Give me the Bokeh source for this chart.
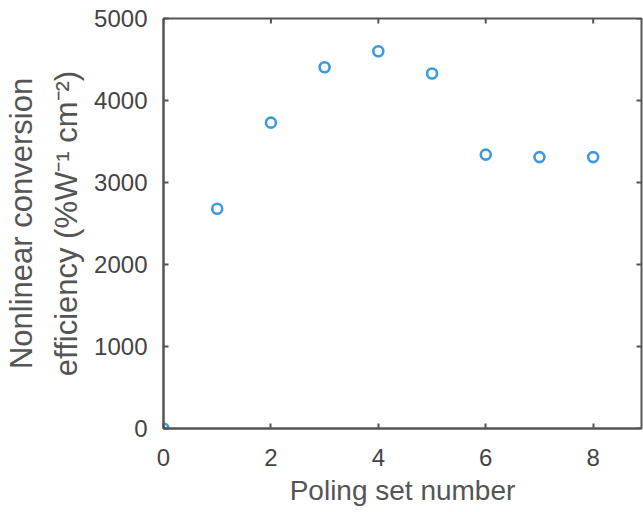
from bokeh.plotting import figure
from bokeh.models import FixedTicker, Range1d
from bokeh.embed import file_html
from bokeh.resources import INLINE

poling_set = [0, 1, 2, 3, 4, 5, 6, 7, 8]
efficiency = [0, 2680, 3730, 4405, 4600, 4330, 3340, 3310, 3310]
x_ticks = [0, 2, 4, 6, 8]
y_ticks = [0, 1000, 2000, 3000, 4000, 5000]

X_MAX = 8.9
Y_MAX = 5000

FONT = "Liberation Sans"
AX = "#555555"
LBL = "#444444"

p = figure(width=643, height=512, output_backend="svg", toolbar_location=None,
           x_range=Range1d(0, X_MAX), y_range=Range1d(0, Y_MAX),
           min_border_left=163, min_border_right=2, min_border_top=18, min_border_bottom=84)
p.grid.visible = False
p.background_fill_color = "white"
p.outline_line_color = AX
p.outline_line_width = 2

for ax in (p.xaxis[0], p.yaxis[0]):
    ax.axis_line_color = AX
    ax.axis_line_width = 2
    ax.major_tick_in = 5
    ax.major_tick_out = 0
    ax.major_tick_line_color = AX
    ax.major_tick_line_width = 2
    ax.minor_tick_line_color = None
    ax.major_label_text_font = FONT
    ax.major_label_text_font_size = "24px"
    ax.major_label_text_color = LBL
    ax.axis_label_text_font = FONT
    ax.axis_label_text_font_style = "normal"
    ax.axis_label_text_color = AX

p.xaxis.ticker = FixedTicker(ticks=x_ticks)
p.yaxis.ticker = FixedTicker(ticks=y_ticks)
p.xaxis.axis_label = "Poling set number"
p.yaxis.axis_label = "Nonlinear conversion\nefficiency (%W\u207b\u00b9 cm\u207b\u00b2)"
p.xaxis.axis_label_text_font_size = "28px"
p.yaxis.axis_label_text_font_size = "31px"
p.yaxis.axis_label_text_line_height = 1.3
p.xaxis.major_label_standoff = 20
p.yaxis.major_label_standoff = 16
p.xaxis.axis_label_standoff = 6
p.yaxis.axis_label_standoff = 7

# inward ticks on the top and right edges of the box
tick_len_y = Y_MAX * 5 / 410
tick_len_x = X_MAX * 5 / 478
p.segment(x0=x_ticks, y0=[Y_MAX] * len(x_ticks), x1=x_ticks,
          y1=[Y_MAX - tick_len_y] * len(x_ticks), line_color=AX, line_width=2)
p.segment(x0=[X_MAX] * len(y_ticks), y0=y_ticks, x1=[X_MAX - tick_len_x] * len(y_ticks),
          y1=y_ticks, line_color=AX, line_width=2)

p.scatter(poling_set, efficiency, marker="circle", size=10, fill_color=None,
          line_color="#3d9ae0", line_width=2.6)

open("out.html", "w").write(file_html(p, INLINE))
